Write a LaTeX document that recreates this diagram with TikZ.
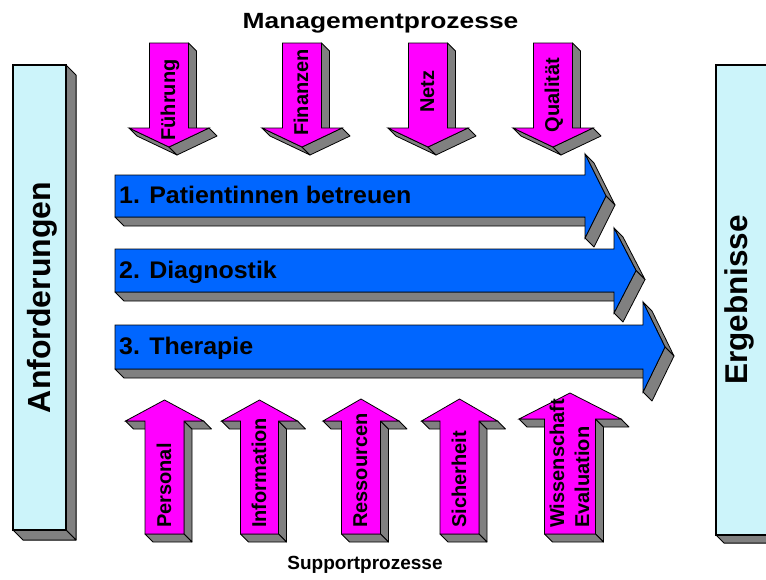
\documentclass[tikz,border=0pt]{standalone}
\usepackage{fontspec}
\setmainfont{Liberation Sans}
\usepackage{graphicx}
\definecolor{procblue}{HTML}{0066FF}
\definecolor{supmag}{HTML}{FF00FF}
\definecolor{sidegrey}{HTML}{808080}
\definecolor{barcyan}{HTML}{CCF4FA}
\tikzset{
  sideface/.style={fill=sidegrey, draw=black, line width=0.8pt, line join=round},
  magface/.style={fill=supmag, draw=black, line width=0.8pt},
  blueface/.style={fill=procblue, draw=black, line width=0.8pt},
  barface/.style={fill=barcyan, draw=black, line width=1.3pt},
  barside/.style={fill=sidegrey, draw=black, line width=1pt, line join=round},
  smalllbl/.style={font=\fontsize{20}{24}\selectfont\bfseries, inner sep=0pt, rotate=90},
  proclbl/.style={font=\fontsize{24}{28}\selectfont\bfseries, inner sep=0pt, anchor=base west},
  barlbl/.style={font=\fontsize{32}{36}\selectfont\bfseries, inner sep=0pt, rotate=90, anchor=base},
  titlelbl/.style={inner sep=0pt, anchor=base}
}
% down arrow: #1 = centre x
\newcommand{\DownArr}[1]{%
  \path[sideface] (#1+19.5,43) -- (#1+27.5,51) -- (#1+27.5,136) -- (#1+19.5,128) -- cycle;
  \path[sideface] (#1-40,128) -- (#1,147) -- (#1+8,155) -- (#1-32,136) -- cycle;
  \path[sideface] (#1+40,128) -- (#1,147) -- (#1+8,155) -- (#1+48,136) -- cycle;
  \path[magface] (#1-19.5,43) -- (#1+19.5,43) -- (#1+19.5,128) -- (#1+40,128) -- (#1,147)
     -- (#1-40,128) -- (#1-19.5,128) -- cycle;
}
% up arrow: #1 centre x, #2 shaft half width, #3 head half width, #4 tip y, #5 head base y
\newcommand{\UpArr}[5]{%
  \path[sideface] (#1+#2,#5) -- (#1+#2+8,#5+8) -- (#1+#2+8,542) -- (#1+#2,534) -- cycle;
  \path[sideface] (#1-#2,534) -- (#1+#2,534) -- (#1+#2+8,542) -- (#1-#2+8,542) -- cycle;
  \path[sideface] (#1-#3,#5) -- (#1-#2,#5) -- (#1-#2+8,#5+8) -- (#1-#3+8,#5+8) -- cycle;
  \path[sideface] (#1+#2,#5) -- (#1+#3,#5) -- (#1+#3+8,#5+8) -- (#1+#2+8,#5+8) -- cycle;
  \path[magface] (#1,#4) -- (#1+#3,#5) -- (#1+#2,#5) -- (#1+#2,534) -- (#1-#2,534)
     -- (#1-#2,#5) -- (#1-#3,#5) -- cycle;
}
% process arrow: #1 yt, #2 yb, #3 xh, #4 xt, #5 yht, #6 yhb, #7 yc
\newcommand{\ProcArr}[7]{%
  \path[sideface] (115,#2) -- (#3,#2) -- (#3+9,#2+9) -- (124,#2+9) -- cycle;
  \path[sideface] (#3,#5) -- (#4,#7) -- (#4+9,#7+9) -- (#3+9,#5+9) -- cycle;
  \path[sideface] (#4,#7) -- (#3,#6) -- (#3+9,#6+9) -- (#4+9,#7+9) -- cycle;
  \path[blueface] (115,#1) -- (#3,#1) -- (#3,#5) -- (#4,#7) -- (#3,#6) -- (#3,#2)
     -- (115,#2) -- cycle;
}
\begin{document}
\begin{tikzpicture}[x=1pt, y=-1pt]
\useasboundingbox (0,0) rectangle (766,579);
\begin{scope}
\clip (0,0) rectangle (766,579);

% titles
\node[titlelbl, font=\fontsize{22}{26}\selectfont\bfseries] (mgmt) at (380.5,28)
  {\scalebox{1.2}[1]{Managementprozesse}};
\node[titlelbl, font=\fontsize{19}{23}\selectfont\bfseries] (supp) at (365,569)
  {Supportprozesse};

% management arrows
\DownArr{169}
\DownArr{302}
\DownArr{428}
\DownArr{553}
\node[smalllbl, anchor=base] (fuehrung) at (175,100) {Führung};
\node[smalllbl, anchor=base] (finanzen) at (308,92.5) {Finanzen};
\node[smalllbl, anchor=base] (netz) at (434,91.5) {Netz};
\node[smalllbl, anchor=base] (qualitaet) at (559,95) {Qualität};

% process arrows
\ProcArr{175}{217}{585}{606}{154}{238}{196}
\ProcArr{249}{292}{614}{636}{228}{313}{270.5}
\ProcArr{325}{369}{643}{665}{302}{392}{347}
\node[proclbl] (p1) at (119,203) {\scalebox{1.04}[1]{1. Patientinnen betreuen}};
\node[proclbl] (p2) at (119,278) {\scalebox{1.04}[1]{2. Diagnostik}};
\node[proclbl] (p3) at (119,354) {\scalebox{1.04}[1]{3. Therapie}};

% support arrows
\UpArr{164.5}{19.5}{39}{400}{421}
\UpArr{259.5}{19}{38}{400}{421}
\UpArr{361}{19.5}{38}{399}{421}
\UpArr{459.5}{19.5}{38}{399}{421}
\UpArr{570}{25.5}{51}{393}{419}
\node[smalllbl, anchor=base west] (personal) at (171,528) {Personal};
\node[smalllbl, anchor=base west] (info) at (266,528) {Information};
\node[smalllbl, anchor=base west] (ress) at (367,528) {Ressourcen};
\node[smalllbl, anchor=base west] (sicher) at (466,528) {Sicherheit};
\node[smalllbl, anchor=base west] (wiss) at (564,528) {Wissenschaft};
\node[smalllbl, anchor=base west] (eval) at (589,528) {Evaluation};

% left bar
\path[barside] (66,65) -- (76,75) -- (76,540) -- (66,530) -- cycle;
\path[barside] (13,530) -- (66,530) -- (76,540) -- (23,540) -- cycle;
\path[barface] (13,65) rectangle (66,530);
\node[barlbl] (anf) at (50,297.5) {Anforderungen};

% right bar
\path[barside] (716,535) -- (800,535) -- (808,543) -- (724,543) -- cycle;
\path[barface] (716,65) rectangle (800,535);
\node[barlbl, font=\fontsize{31.5}{36}\selectfont\bfseries] (erg) at (747,300) {Ergebnisse};
\end{scope}
\end{tikzpicture}
\end{document}
